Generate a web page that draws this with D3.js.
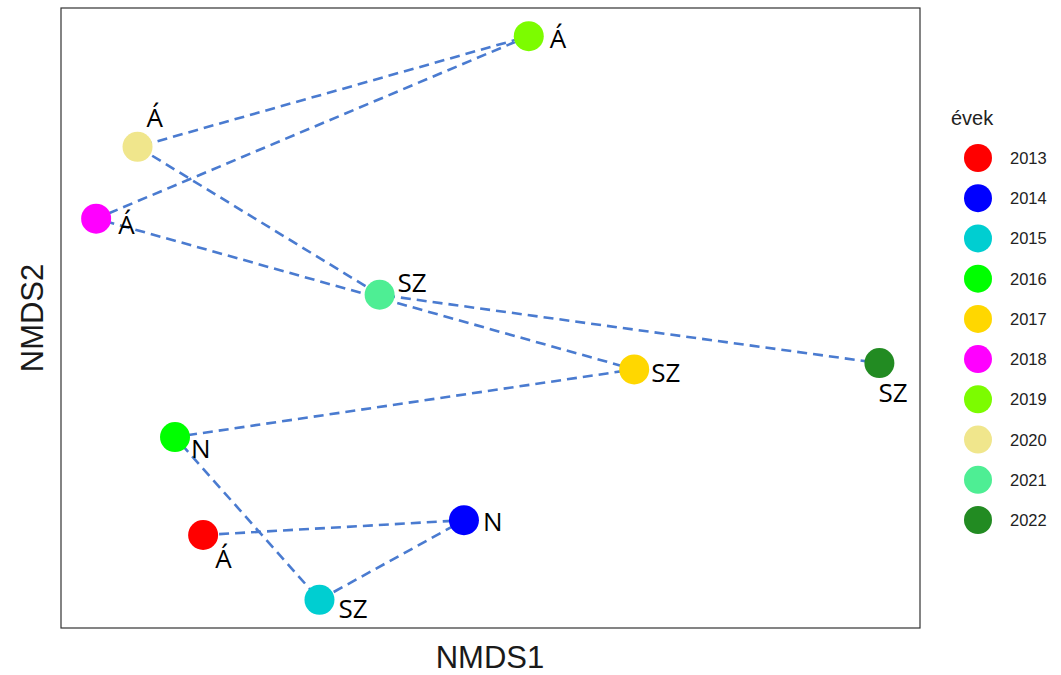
<!DOCTYPE html>
<html><head><meta charset="utf-8">
<script src="https://cdn.jsdelivr.net/npm/d3@7"></script>
<style>body{margin:0;background:#fff}svg{display:block}</style>
</head><body>
<svg id="c" width="1061" height="675"></svg>
<script>
const years = ["2013","2014","2015","2016","2017","2018","2019","2020","2021","2022"];
const nmds1 = [-0.368,-0.034,-0.219,-0.404,0.184,-0.505,0.049,-0.452,-0.142,0.498];
const nmds2 = [-0.308,-0.287,-0.400,-0.169,-0.073,0.141,0.400,0.243,0.033,-0.064];
const siteLabels = ["Á","N","SZ","N","SZ","Á","Á","Á","SZ","SZ"];
const colors = ["#FF0000","#0000FF","#00CED1","#00FF00","#FFD700","#FF00FF","#7CFC00","#F0E68C","#4EEE94","#228B22"];
// label placement (text anchor offsets, px)
const labelDx = [12,19,19,16,17,22,21,9,18,-1];
const labelDy = [33,11,18,21,13,15,12,-20,-3,39];

const svg = d3.select("#c");
const L=61,R=920,T=8,B=628;
const x = d3.scaleLinear().domain([-0.55,0.55]).range([L,R]);
const y = d3.scaleLinear().domain([-0.44,0.44]).range([B,T]);
const pts = years.map((yr,i)=>({yr,x:nmds1[i],y:nmds2[i],lab:siteLabels[i],col:colors[i],i}));

svg.append("rect").attr("x",L).attr("y",T).attr("width",R-L).attr("height",B-T)
  .attr("fill","#fff").attr("stroke","#333").attr("stroke-width",1.2);

const line = d3.line().x(d=>x(d.x)).y(d=>y(d.y));
svg.append("path").datum(pts).attr("d",line).attr("fill","none")
  .attr("stroke","#4A7BD0").attr("stroke-width",2.6).attr("stroke-dasharray","10,6");

svg.selectAll("circle.p").data(pts).join("circle").attr("class","p")
  .attr("cx",d=>x(d.x)).attr("cy",d=>y(d.y)).attr("r",15).attr("fill",d=>d.col);

svg.selectAll("text.l").data(pts).join("text").attr("class","l")
  .attr("x",d=>x(d.x)+labelDx[d.i]).attr("y",d=>y(d.y)+labelDy[d.i])
  .attr("font-family","Open Sans, Noto Sans, sans-serif").attr("font-size",26).attr("fill","#000")
  .text(d=>d.lab);

svg.append("text").attr("x",490).attr("y",668).attr("text-anchor","middle")
  .attr("font-family","Liberation Sans, Arial, sans-serif").attr("font-size",31).attr("fill","#1a1a1a").text("NMDS1");
svg.append("text").attr("transform",`translate(43,${(T+B)/2}) rotate(-90)`).attr("text-anchor","middle")
  .attr("font-family","Liberation Sans, Arial, sans-serif").attr("font-size",31).attr("fill","#1a1a1a").text("NMDS2");

const lg = svg.append("g");
lg.append("text").attr("x",951).attr("y",125).attr("font-family","Liberation Sans, Arial, sans-serif")
  .attr("font-size",20).attr("fill","#222").text("évek");
const ly = d3.scalePoint().domain(years).range([158,520]);
lg.selectAll("circle").data(pts).join("circle").attr("cx",978).attr("cy",d=>ly(d.yr)).attr("r",14).attr("fill",d=>d.col);
lg.selectAll("text.k").data(pts).join("text").attr("class","k").attr("x",1010).attr("y",d=>ly(d.yr)+6)
  .attr("font-family","Liberation Sans, Arial, sans-serif").attr("font-size",16.5).attr("fill","#222").text(d=>d.yr);
</script>
</body></html>
